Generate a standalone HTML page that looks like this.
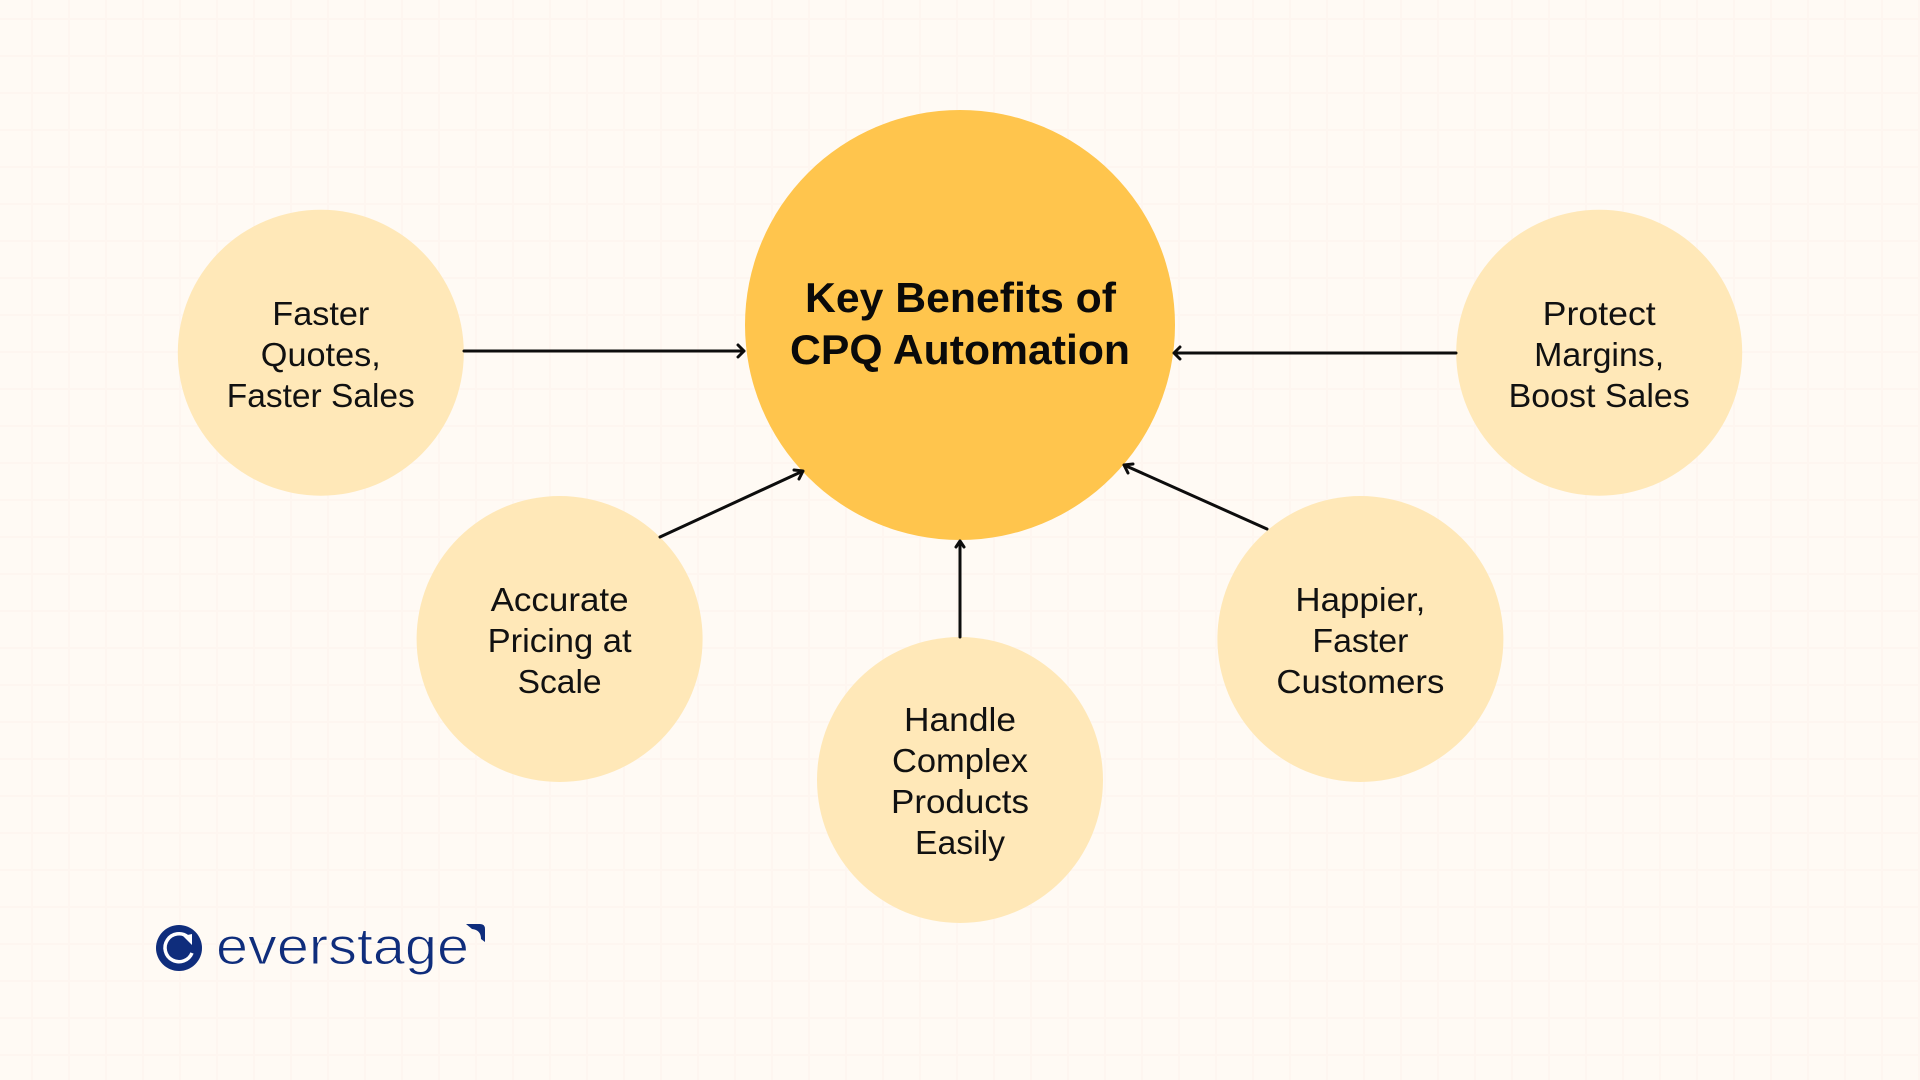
<!DOCTYPE html>
<html><head><meta charset="utf-8"><style>
html,body{margin:0;padding:0;width:1920px;height:1080px;overflow:hidden;background:#fffaf4}
svg{display:block}
text{font-family:"Liberation Sans",sans-serif}
.s{font-size:33px;fill:#111;text-anchor:middle}
.t{font-size:42px;font-weight:700;fill:#0a0a0a;text-anchor:middle}
.a{stroke:#0d0d0d;stroke-width:3;fill:none;stroke-linecap:round;stroke-linejoin:round}
</style></head><body>
<svg width="1920" height="1080" viewBox="0 0 1920 1080" xmlns="http://www.w3.org/2000/svg">
<defs>
<pattern id="g" width="37" height="37" patternUnits="userSpaceOnUse" x="33" y="20">
<path d="M36 0V37M0 36H37" stroke="#fdf4ee" stroke-width="2" fill="none"/>
</pattern>
</defs>
<rect width="1920" height="1080" fill="#fffaf4"/>
<rect width="1920" height="1080" fill="url(#g)" opacity=".7"/>
<circle cx="960" cy="325" r="215" fill="#ffc54d"/>
<g fill="#ffe8b8">
<circle cx="320.8" cy="352.7" r="143"/>
<circle cx="559.6" cy="639" r="143"/>
<circle cx="960" cy="780" r="143"/>
<circle cx="1360.4" cy="639" r="143"/>
<circle cx="1599.2" cy="352.7" r="143"/>
</g>
<g class="a">
<path d="M464 351H744M738 345L744 351L738 357"/>
<path d="M1456 353H1174M1180 347L1174 353L1180 359"/>
<path d="M660 537L803 471M794 470L803 471L799 479"/>
<path d="M1267 529L1124 465M1133 464L1124 465L1128 473"/>
<path d="M960 637V541M956 547L960 541L964 547"/>
</g>
<text class="t" x="960.5" y="312" textLength="311" lengthAdjust="spacingAndGlyphs">Key Benefits of</text>
<text class="t" x="960" y="364" textLength="340" lengthAdjust="spacingAndGlyphs">CPQ Automation</text>
<text class="s" x="320.8" y="325" textLength="97" lengthAdjust="spacingAndGlyphs">Faster</text>
<text class="s" x="320.8" y="366" textLength="120" lengthAdjust="spacingAndGlyphs">Quotes,</text>
<text class="s" x="320.8" y="407" textLength="188" lengthAdjust="spacingAndGlyphs">Faster Sales</text>
<text class="s" x="559.6" y="611" textLength="138" lengthAdjust="spacingAndGlyphs">Accurate</text>
<text class="s" x="559.6" y="652" textLength="144" lengthAdjust="spacingAndGlyphs">Pricing at</text>
<text class="s" x="559.6" y="693" textLength="84" lengthAdjust="spacingAndGlyphs">Scale</text>
<text class="s" x="960" y="731" textLength="112" lengthAdjust="spacingAndGlyphs">Handle</text>
<text class="s" x="960" y="772" textLength="136" lengthAdjust="spacingAndGlyphs">Complex</text>
<text class="s" x="960" y="813" textLength="138" lengthAdjust="spacingAndGlyphs">Products</text>
<text class="s" x="960" y="854" textLength="90" lengthAdjust="spacingAndGlyphs">Easily</text>
<text class="s" x="1360.4" y="611" textLength="130" lengthAdjust="spacingAndGlyphs">Happier,</text>
<text class="s" x="1360.4" y="652" textLength="96" lengthAdjust="spacingAndGlyphs">Faster</text>
<text class="s" x="1360.4" y="693" textLength="168" lengthAdjust="spacingAndGlyphs">Customers</text>
<text class="s" x="1599.2" y="325" textLength="113" lengthAdjust="spacingAndGlyphs">Protect</text>
<text class="s" x="1599.2" y="366" textLength="130" lengthAdjust="spacingAndGlyphs">Margins,</text>
<text class="s" x="1599.2" y="407" textLength="181" lengthAdjust="spacingAndGlyphs">Boost Sales</text>
<circle cx="179" cy="948" r="23" fill="#0f2d7c"/>
<path d="M188 937A14 14 0 1 0 192 953" fill="none" stroke="#fff" stroke-width="3.5"/>
<path d="M183 936L192 934L192 945Z" fill="#fff"/>
<text x="216" y="964" font-size="52" fill="#0f2d7c" stroke="#fffaf4" stroke-width="1" textLength="253" lengthAdjust="spacingAndGlyphs">everstage</text>
<path d="M466 924H480Q485 924 485 929V942L481 939Q481 930 472 929Z" fill="#0f2d7c"/>
</svg>
</body></html>
